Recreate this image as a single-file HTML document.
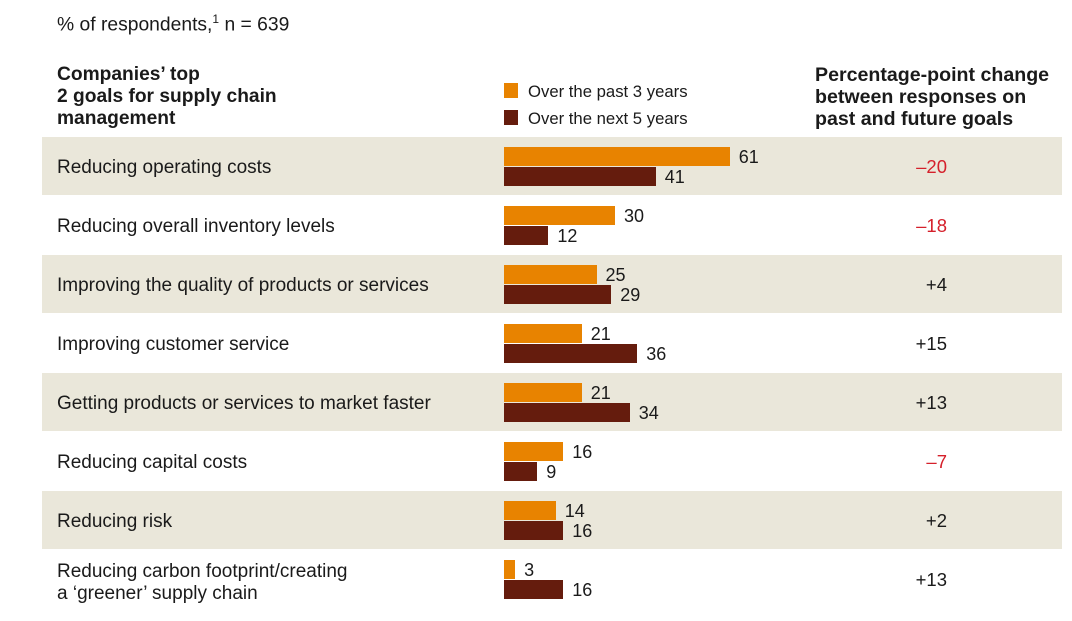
<!DOCTYPE html>
<html><head><meta charset="utf-8"><style>
body{margin:0;background:#fff;font-family:"Liberation Sans",sans-serif;color:#1a1a1a}
#c{position:relative;width:1072px;height:621px;overflow:hidden}
.t{position:absolute;white-space:nowrap}
.b{font-weight:bold;font-size:19.2px;line-height:22px}
</style></head><body>
<div id="c">
<div class="t" style="left:57px;top:12px;font-size:19.3px">% of respondents,<sup style="font-size:12px">1</sup> n = 639</div>
<div class="t b" style="left:57px;top:64px">Companies’ top<br>2 goals for supply chain<br>management</div>
<div class="t b" style="left:815px;top:64px;font-size:19.6px">Percentage-point change<br>between responses on<br>past and future goals</div>
<div style="position:absolute;left:504px;top:83px;width:14px;height:15px;background:#e88300"></div>
<div class="t" style="left:528px;top:82px;font-size:16.7px">Over the past 3 years</div>
<div style="position:absolute;left:504px;top:110px;width:14px;height:15px;background:#651c0d"></div>
<div class="t" style="left:528px;top:109px;font-size:16.7px">Over the next 5 years</div>
</div>
<script>
const categories=["Reducing operating costs","Reducing overall inventory levels","Improving the quality of products or services","Improving customer service","Getting products or services to market faster","Reducing capital costs","Reducing risk","Reducing carbon footprint/creating<br>a ‘greener’ supply chain"];
const past=[61,30,25,21,21,16,14,3];
const next=[41,12,29,36,34,9,16,16];
const changeLabels=["–20","–18","+4","+15","+13","–7","+2","+13"];
const c=document.getElementById('c');
const x0=504,scale=3.7,top0=137,pitch=59;
function xs(v){return v*scale;}
function add(html){const d=document.createElement('div');d.innerHTML=html;const e=d.firstChild;c.appendChild(e);return e;}
categories.forEach((cat,i)=>{
  const y=top0+i*pitch;
  if(i%2===0){const bg=add(`<div style="position:absolute;left:42px;top:${y}px;width:1020px;height:58px;background:#eae7da"></div>`);
    
    }
  const multi=cat.includes('<br>');
  const l=add(`<div class="t" style="left:57px;top:${multi?y+11:y+20}px;font-size:19px;line-height:22px">${cat}</div>`);
  
  
  const b1=add(`<div style="position:absolute;left:${x0}px;top:${y+10}px;width:${xs(past[i])}px;height:19px;background:#e88300"></div>`);
  
  
  const b2=add(`<div style="position:absolute;left:${x0}px;top:${y+30}px;width:${xs(next[i])}px;height:19px;background:#651c0d"></div>`);
  
  
  const v1=add(`<div class="t" style="left:${x0+xs(past[i])+9}px;top:${y+10}px;font-size:18px;line-height:20px">${past[i]}</div>`);
  
  
  const v2=add(`<div class="t" style="left:${x0+xs(next[i])+9}px;top:${y+30}px;font-size:18px;line-height:20px">${next[i]}</div>`);
  
  
  const neg=changeLabels[i].startsWith('–');
  const ch=add(`<div class="t" style="right:${1072-947}px;top:${y+20}px;font-size:18.5px;line-height:20px;color:${neg?'#d5202b':'#1a1a1a'}">${changeLabels[i]}</div>`);
  
  
});
</script>
</body></html>
